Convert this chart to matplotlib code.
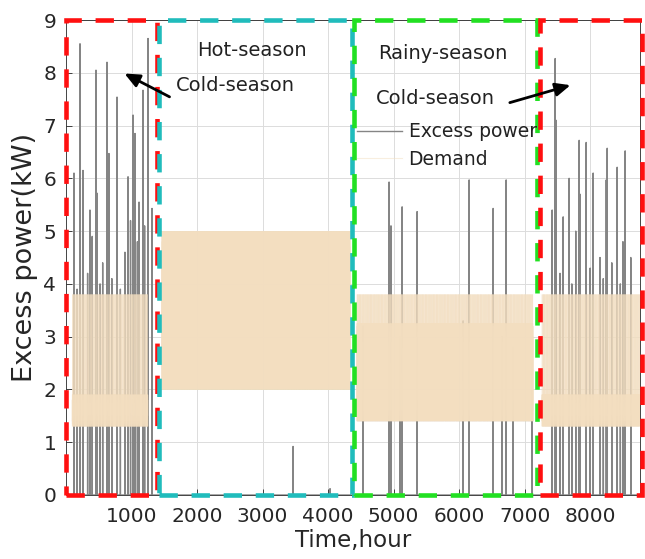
import numpy as np
import matplotlib
matplotlib.use('Agg')
import matplotlib.pyplot as plt
from matplotlib.patches import Rectangle
from matplotlib.collections import LineCollection

plt.rcParams['font.family'] = ['DejaVu Sans']

# ---------------- data ----------------
# Excess power spikes: hour of year and peak value (kW)
spike_hours = [122, 170, 214, 260, 330, 366, 400, 458, 473, 520, 560, 626, 656, 700, 779,
               830, 900, 947, 985, 1023, 1040, 1053, 1090, 1115, 1176, 1200, 1252, 1313,
               3466, 4030,
               4534, 4931, 4960, 5100, 5130, 5359, 6061, 6153, 6519, 6656, 6718,
               6824, 7115,
               7420, 7466, 7480, 7540, 7588, 7679, 7720, 7780, 7832, 7845, 7939, 8000,
               8046, 8150, 8200, 8245, 8260, 8330, 8412, 8460, 8500, 8534, 8620]
spike_values = [6.1, 3.9, 8.55, 6.15, 4.2, 5.4, 4.9, 8.05, 5.72, 4.0, 4.4, 8.2, 6.47, 4.1, 7.54,
                3.9, 4.6, 6.03, 5.2, 7.2, 4.5, 6.85, 4.8, 5.55, 7.67, 5.1, 8.65, 5.43,
                0.92, 0.12,
                3.2, 5.93, 5.1, 3.0, 5.46, 5.37, 3.3, 5.97, 5.43, 3.0, 5.97,
                2.8, 2.5,
                5.4, 8.27, 7.1, 4.2, 5.27, 6.0, 4.0, 5.0, 6.72, 5.7, 6.68, 4.3,
                6.1, 4.5, 4.1, 5.97, 6.57, 4.4, 6.21, 4.0, 4.8, 6.52, 4.5]

# Hourly demand pattern over one day (kW, hours 0..23) for each season
cold_profile = [1.3, 1.8, 1.4, 1.9, 1.35, 1.7, 3.8, 1.5, 1.9, 1.3, 1.8, 1.45,
                1.9, 1.3, 1.75, 1.5, 3.8, 1.4, 1.9, 1.3, 1.85, 1.5, 1.9, 1.35]
hot_profile = [2.0, 5.0, 2.2, 4.8, 2.0, 4.6, 2.4, 5.0, 2.1, 4.9, 2.3, 5.0,
               2.0, 4.7, 2.5, 5.0, 2.0, 4.8, 2.2, 5.0, 2.1, 4.5, 2.0, 4.9]
rainy_profile = [1.4, 3.2, 1.5, 3.25, 1.4, 3.0, 3.8, 1.6, 3.25, 1.4, 3.1, 1.8,
                 3.25, 1.4, 2.9, 1.5, 3.8, 1.4, 3.25, 1.6, 3.2, 1.4, 3.0, 1.5]

demand_starts = [96, 1464, 4440, 7264]
demand_ends = [1250, 4336, 7130, 8760]
demand_profiles = [cold_profile, hot_profile, rainy_profile, cold_profile]

# Season boxes
box_starts = [0, 1420, 4400, 7237]
box_ends = [1390, 4366, 7190, 8790]
box_colors = ['#FF1010', '#20BCBC', '#22E022', '#FF1010']

x_ticks = [1000, 2000, 3000, 4000, 5000, 6000, 7000, 8000]
y_ticks = [0, 1, 2, 3, 4, 5, 6, 7, 8, 9]

DEMAND_COLOR = '#F3DEC0'

# ---------------- series ----------------
hours = np.arange(8760)
excess = np.zeros(8760)
excess[np.array(spike_hours)] = spike_values

segments = []
for s, e, prof in zip(demand_starts, demand_ends, demand_profiles):
    h = hours[s:e]
    d = np.array(prof)[h % 24]
    pts = np.column_stack([h, d])
    segments.extend(np.stack([pts[:-1], pts[1:]], axis=1))

# ---------------- figure ----------------
fig = plt.figure(figsize=(6.45, 5.59), dpi=100)
ax = fig.add_axes([0.1023, 0.1145, 0.8899, 0.8497])

ax.grid(True, color='#dcdcdc', linewidth=0.7, zorder=0)
ax.set_axisbelow(True)

l_ex, = ax.plot(hours, excess, color='#858585', linewidth=1.0, zorder=2,
                label='Excess power')
lc = LineCollection(segments, colors=DEMAND_COLOR, linewidths=0.8, alpha=0.5, zorder=3)
ax.add_collection(lc)
l_de, = ax.plot([], [], color=DEMAND_COLOR, linewidth=0.8, alpha=0.5, label='Demand')

for x0, x1, c in zip(box_starts, box_ends, box_colors):
    r = Rectangle((x0, 0), x1 - x0, 9, fill=False, edgecolor=c, linewidth=3.3,
                  linestyle=(0, (4, 3)), clip_on=False, zorder=5)
    ax.add_patch(r)

ax.set_xlim(0, 8760)
ax.set_ylim(0, 9)
ax.set_xticks(x_ticks)
ax.set_yticks(y_ticks)
ax.tick_params(axis='both', direction='in', length=4, width=0.6, colors='#262626',
               labelsize=14.5)
ax.tick_params(axis='x', pad=9)
ax.tick_params(axis='y', pad=7)
for sp in ax.spines.values():
    sp.set_color('#262626')
    sp.set_linewidth(0.6)

ax.set_xlabel('Time,hour', fontsize=16.5, color='#262626', labelpad=2)
ax.set_ylabel('Excess power(kW)', fontsize=19.5, color='#262626', labelpad=4)

# annotations
ax.text(2840, 8.43, 'Hot-season', fontsize=14, ha='center', va='center', color='#222222', zorder=6)
ax.text(2580, 7.75, 'Cold-season', fontsize=14, ha='center', va='center', color='#222222', zorder=6)
ax.text(5756, 8.37, 'Rainy-season', fontsize=14, ha='center', va='center', color='#222222', zorder=6)
ax.text(5634, 7.51, 'Cold-season', fontsize=14, ha='center', va='center', color='#222222', zorder=6)
ax.annotate('', xy=(855, 8.01), xytext=(1618, 7.52),
            arrowprops=dict(arrowstyle='-|>,head_length=0.9,head_width=0.4',
                            color='black', lw=2), zorder=6)
ax.annotate('', xy=(7740, 7.78), xytext=(6733, 7.42),
            arrowprops=dict(arrowstyle='-|>,head_length=0.9,head_width=0.4',
                            color='black', lw=2), zorder=6)

leg = ax.legend(handles=[l_ex, l_de], loc='upper left', bbox_to_anchor=(0.507, 0.785),
                frameon=False, fontsize=13.5, borderpad=0, borderaxespad=0,
                handlelength=2.4, handletextpad=0.35, labelspacing=0.45)
for t in leg.get_texts():
    t.set_color('#222222')
leg.set_zorder(6)

fig.savefig('out.png', dpi=100)
